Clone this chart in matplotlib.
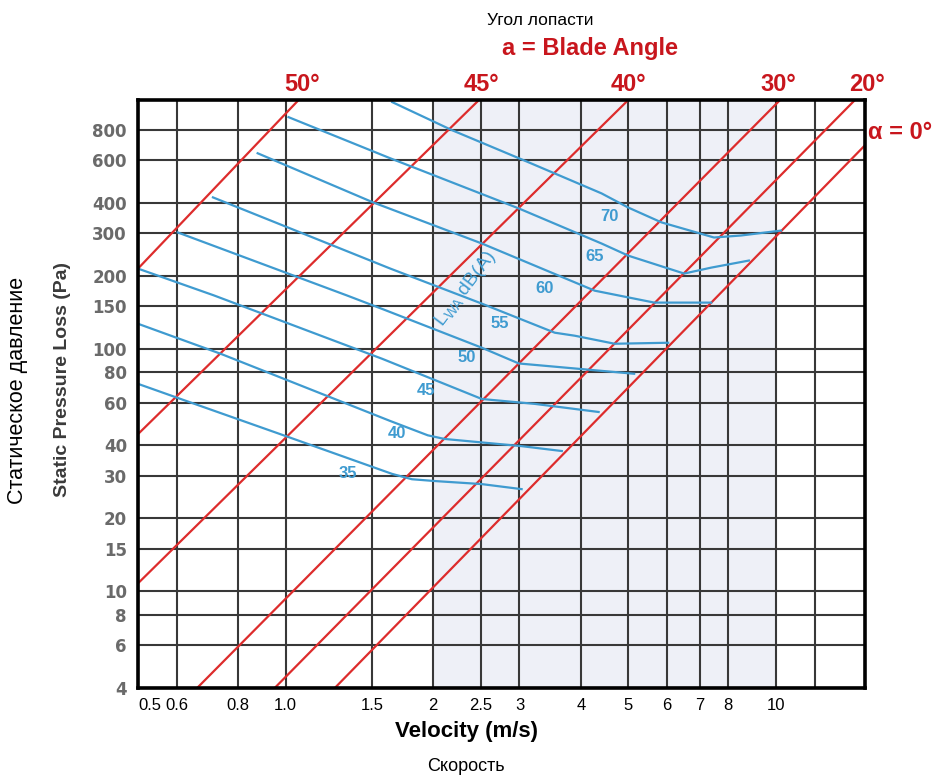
import numpy as np
import matplotlib.pyplot as plt
from matplotlib.ticker import FixedLocator, NullLocator

plt.rcParams['font.family'] = ['Liberation Sans', 'DejaVu Sans']

# axis ticks
x_ticks = [0.5, 0.6, 0.8, 1.0, 1.5, 2, 2.5, 3, 4, 5, 6, 7, 8, 10, 12]
x_labels = ['0.5', '0.6', '0.8', '1.0', '1.5', '2', '2.5', '3', '4', '5',
            '6', '7', '8', '10', '']
y_ticks = [4, 6, 8, 10, 15, 20, 30, 40, 60, 80, 100, 150, 200, 300, 400,
           600, 800]

# blade angle lines (velocity, pressure end points)
angle_names = ['50°', '45°', '40°', '30°', '20°', '0°']
angle_v = [[0.5, 1.063], [0.5, 2.48], [0.5, 5.0], [0.66, 10.2],
           [0.95, 14.5], [1.26, 15.2]]
angle_p = [[214, 1060], [44.5, 1060], [10.8, 1060], [4, 1060],
           [4, 1060], [4, 690]]
angle_label_v = [1.083, 2.51, 5.0, 10.1, 15.35]

# sound power level curves L_WA dB(A)
lwa_levels = [35, 40, 45, 50, 55, 60, 65, 70]
v35 = [0.5, 0.603, 1.0, 1.65, 1.81, 2.02, 2.51, 3.03]
p35 = [71.7, 62.7, 43.7, 30.5, 29.0, 28.5, 27.7, 26.4]
v40 = [0.5, 0.738, 1.635, 1.95, 2.11, 3.03, 3.66]
p40 = [126.8, 95.3, 50.4, 44.0, 42.5, 39.7, 37.9]
v45 = [0.5, 0.714, 1.575, 2.514, 3.22, 4.35]
p45 = [214, 166, 90.9, 62.1, 59.3, 54.9]
v50 = [0.603, 1.337, 1.575, 2.514, 2.99, 3.96, 5.14]
p50 = [301.5, 165.6, 145.9, 101, 87.0, 82.7, 78.9]
v55 = [0.711, 1.635, 2.514, 3.54, 3.89, 4.69, 6.03]
p55 = [420.7, 214.1, 153.5, 116.5, 113.2, 104.9, 105.9]
v60 = [0.877, 1.509, 2.514, 4.27, 5.65, 7.38]
p60 = [639.5, 401, 271.6, 173.6, 155, 155]
v65 = [1.014, 1.635, 2.99, 4.41, 5.0, 6.50, 7.38, 8.81]
p65 = [900.7, 609.7, 378.8, 271.6, 242, 204.2, 216, 231]
v70 = [1.65, 2.185, 3.13, 4.41, 5.0, 5.84, 7.48, 8.49, 10.24]
p70 = [1039, 796, 587, 437, 382, 332, 287.5, 293, 307]
curves_v = [v35, v40, v45, v50, v55, v60, v65, v70]
curves_p = [p35, p40, p45, p50, p55, p60, p65, p70]
label_v = [1.337, 1.69, 1.93, 2.34, 2.73, 3.38, 4.27, 4.58]
label_p = [30.7, 44.9, 67, 91.8, 126.8, 177, 240, 351]

red = '#dd2c2c'
red_text = '#c8161d'
blue = '#3f9bd0'

fig = plt.figure(figsize=(9.47, 7.77), dpi=100)
ax = fig.add_axes([138 / 947, 1 - 688 / 777, 727 / 947, 588 / 777])
ax.set_xscale('log')
ax.set_yscale('log')
ax.set_xlim(0.5, 15.2)
ax.set_ylim(4, 1060)

ax.axvspan(2, 10, color='#eef0f7', zorder=0, lw=0)

ax.xaxis.set_major_locator(FixedLocator(x_ticks))
ax.xaxis.set_minor_locator(NullLocator())
ax.yaxis.set_major_locator(FixedLocator(y_ticks))
ax.yaxis.set_minor_locator(NullLocator())
ax.set_xticklabels(x_labels)
ax.set_yticklabels([str(t) for t in y_ticks])
ax.grid(True, which='major', color='#383838', linewidth=1.5, zorder=1)
ax.set_axisbelow(True)
ax.tick_params(length=0)
ax.tick_params(axis='x', pad=7, labelsize=12, labelcolor='black')
ax.tick_params(axis='y', pad=8)
for lab in ax.get_yticklabels():
    lab.set_family('DejaVu Sans')
    lab.set_fontweight('bold')
    lab.set_fontsize(12)
    lab.set_color('#6a6a6a')
ax.get_xticklabels()[0].set_ha('left')

for s in ax.spines.values():
    s.set_linewidth(2.6)
    s.set_color('black')
    s.set_zorder(5)

for v, p in zip(angle_v, angle_p):
    ax.plot(v, p, color=red, linewidth=1.6, zorder=3)

for v, p in zip(curves_v, curves_p):
    ax.plot(v, p, color=blue, linewidth=1.6, zorder=4)

for lev, lv, lp in zip(lwa_levels, label_v, label_p):
    ax.text(lv, lp, str(lev), color=blue, fontsize=12, fontweight='bold',
            ha='center', va='center', zorder=6)

ax.text(2.33, 177, r'L$_{\mathregular{WA}}$ dB(A)', color=blue, fontsize=14,
        rotation=53, ha='center', va='center', rotation_mode='anchor',
        zorder=6)

trans = ax.get_xaxis_transform()
for name, lv in zip(angle_names[:-1], angle_label_v):
    ax.text(lv, 1.026, name, transform=trans, color=red_text, fontsize=17,
            fontweight='bold', ha='center', va='center', clip_on=False)
fig.text(0.9166, 0.829, 'α = 0°', color=red_text, fontsize=17,
         fontweight='bold', ha='left', va='center')

fig.text(0.570, 0.974, 'Угол лопасти', fontsize=12.5, ha='center',
         va='center')
fig.text(0.623, 0.938, 'a = Blade Angle', color=red_text, fontsize=17,
         fontweight='bold', ha='center', va='center')

fig.text(0.0655, 0.511, 'Static Pressure Loss (Pa)', rotation=90,
         fontsize=14, fontweight='bold', color='#3a3a3a', ha='center',
         va='center')
fig.text(0.019, 0.498, 'Статическое давление', rotation=90, fontsize=15.5,
         ha='center', va='center')
fig.text(0.493, 0.059, 'Velocity (m/s)', fontsize=16, fontweight='bold',
         ha='center', va='center')
fig.text(0.492, 0.013, 'Скорость', fontsize=13, ha='center', va='center')

fig.savefig('out.png', dpi=100)
